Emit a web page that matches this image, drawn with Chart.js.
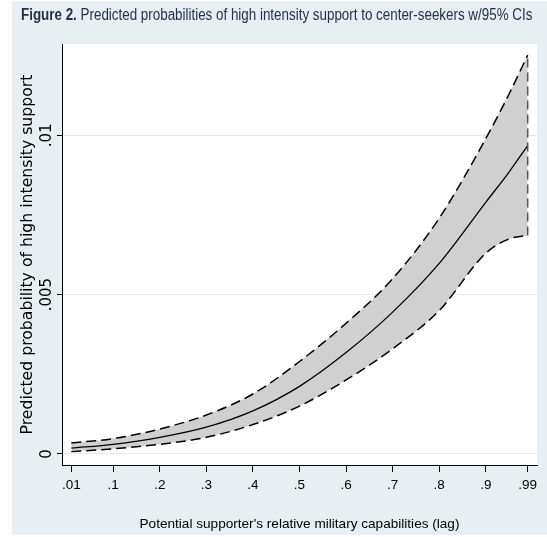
<!DOCTYPE html>
<html>
<head>
<meta charset="utf-8">
<script src="https://cdn.jsdelivr.net/npm/chart.js@4.4.1/dist/chart.umd.min.js"></script>
<style>
  html, body { margin: 0; padding: 0; background: #fff; }
  #wrap { position: relative; width: 547px; height: 537px; }
  #title {
    position: absolute; left: 21px; top: 6px;
    font-family: "Liberation Sans", Arial, sans-serif;
    font-size: 16px; line-height: 18px; color: #26304a; white-space: nowrap;
    transform: scaleX(0.837); transform-origin: 0 0;
  }
</style>
</head>
<body>
<div id="wrap">
  <canvas id="predChart" width="547" height="537"></canvas>
  <div id="title"><b>Figure 2.</b> Predicted probabilities of high intensity support to center-seekers w/95% CIs</div>
</div>
<script>
// relative military capabilities (x) and predicted probability with 95% CI
const capability = [0.01, 0.1, 0.2, 0.3, 0.4, 0.5, 0.6, 0.7, 0.8, 0.9, 0.95, 0.99];
const predicted  = [0.00018, 0.0003, 0.00052, 0.00084, 0.00135, 0.00212, 0.00318, 0.00445, 0.00598, 0.0079, 0.00885, 0.00968];
const upper95    = [0.00034, 0.00048, 0.00078, 0.00122, 0.00188, 0.0029, 0.0041, 0.0055, 0.0074, 0.0099, 0.0113, 0.01252];
const lower95    = [0.00007, 0.00016, 0.0003, 0.00052, 0.00092, 0.0015, 0.00232, 0.0033, 0.0045, 0.0063, 0.00675, 0.00686];

const xTickValues = [0.01, 0.1, 0.2, 0.3, 0.4, 0.5, 0.6, 0.7, 0.8, 0.9, 0.99];
const xTickLabels = [".01", ".1", ".2", ".3", ".4", ".5", ".6", ".7", ".8", ".9", ".99"];
const yTickValues = [0, 0.005, 0.01];
const yTickLabels = ["0", ".005", ".01"];

const sans = "'Liberation Sans', Arial, sans-serif";

const pts = (ys) => capability.map((x, i) => ({ x: x, y: ys[i] }));
const last = capability.length - 1;

// light panel behind everything, white plot region
const panelBackground = {
    id: "panelBackground",
    beforeDraw(chart) {
        const { ctx, chartArea } = chart;
        ctx.save();
        ctx.fillStyle = "#e8eff2";
        ctx.fillRect(12, 1, 535, 534);
        ctx.fillStyle = "#ffffff";
        ctx.fillRect(chartArea.left, chartArea.top, chartArea.right - chartArea.left, chartArea.bottom - chartArea.top);
        ctx.restore();
    }
};

const ctx = document.getElementById("predChart");

new Chart(ctx, {
    type: "line",
    data: {
        datasets: [
            {
                label: "Upper 95% CI",
                data: pts(upper95),
                borderColor: "#000",
                borderWidth: 1.5,
                borderDash: [10, 5],
                backgroundColor: "#d0d0d0",
                fill: "+1",
                pointRadius: 0,
                cubicInterpolationMode: "monotone"
            },
            {
                label: "Lower 95% CI",
                data: pts(lower95),
                borderColor: "#000",
                borderWidth: 1.5,
                borderDash: [10, 5],
                fill: false,
                pointRadius: 0,
                cubicInterpolationMode: "monotone"
            },
            {
                label: "CI edge",
                data: [
                    { x: capability[last], y: lower95[last] },
                    { x: capability[last], y: upper95[last] }
                ],
                borderColor: "#555",
                borderWidth: 1.5,
                borderDash: [9, 5],
                fill: false,
                pointRadius: 0
            },
            {
                label: "Predicted probability",
                data: pts(predicted),
                borderColor: "#000",
                borderWidth: 1.3,
                fill: false,
                pointRadius: 0,
                cubicInterpolationMode: "monotone"
            }
        ]
    },
    options: {
        responsive: false,
        animation: false,
        layout: { padding: { left: 0, top: 44, right: 10, bottom: 0 } },
        plugins: {
            legend: { display: false },
            tooltip: { enabled: false },
            filler: { drawTime: "beforeDatasetsDraw" }
        },
        scales: {
            x: {
                type: "linear",
                min: -0.01,
                max: 1.01,
                afterBuildTicks: (s) => { s.ticks = xTickValues.map(v => ({ value: v })); },
                afterFit: (s) => { s.height = 72; },
                ticks: {
                    autoSkip: false,
                    maxRotation: 0,
                    padding: 5,
                    color: "#000",
                    font: { family: sans, size: 13.5 },
                    callback: (v, i) => xTickLabels[i]
                },
                grid: { drawOnChartArea: false, tickLength: 7, tickColor: "#000" },
                border: { color: "#000", width: 1 },
                title: {
                    display: true,
                    text: "Potential supporter's relative military capabilities (lag)",
                    color: "#000",
                    font: { family: sans, size: 13.6 },
                    padding: { top: 0, bottom: 5 }
                }
            },
            y: {
                type: "linear",
                min: -0.00035,
                max: 0.01287,
                afterBuildTicks: (s) => { s.ticks = yTickValues.map(v => ({ value: v })); },
                afterFit: (s) => { s.width = 62; },
                ticks: {
                    minRotation: 90,
                    maxRotation: 90,
                    crossAlign: "center",
                    padding: -7,
                    color: "#000",
                    font: { family: "'DejaVu Sans', sans-serif", size: 15 },
                    callback: (v, i) => yTickLabels[i]
                },
                grid: { color: "#e2eaee", tickColor: "#000", tickLength: 5 },
                border: { color: "#000", width: 1 },
                title: {
                    display: true,
                    text: "Predicted probability of high intensity support",
                    color: "#000",
                    font: { family: "'DejaVu Sans', sans-serif", size: 15.7 },
                    padding: { top: 19, bottom: 0 }
                }
            }
        }
    },
    plugins: [panelBackground]
});
</script>
</body>
</html>
